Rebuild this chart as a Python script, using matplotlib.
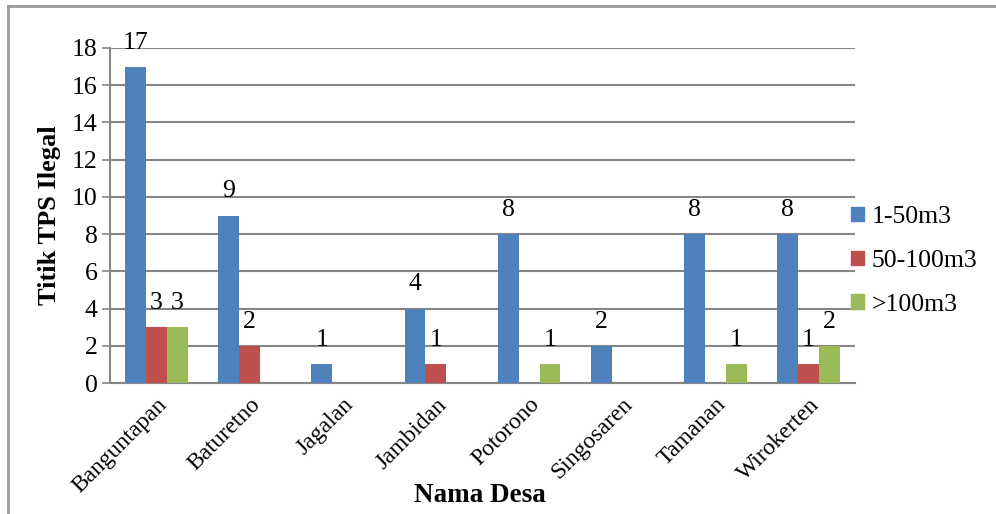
import numpy as np
import matplotlib
matplotlib.use("Agg")
import matplotlib.pyplot as plt
from matplotlib.lines import Line2D

# data: jumlah titik TPS ilegal per desa
desa = ["Banguntapan", "Baturetno", "Jagalan", "Jambidan",
        "Potorono", "Singosaren", "Tamanan", "Wirokerten"]
vol_1_50 = [17, 9, 1, 4, 8, 2, 8, 8]
vol_50_100 = [3, 2, 0, 1, 0, 0, 0, 1]
vol_100 = [3, 0, 0, 0, 1, 0, 1, 2]
series_names = ["1-50m3", "50-100m3", ">100m3"]
colors = ["#4F81BD", "#C0504D", "#9BBB59"]

plt.rcParams["font.family"] = ["Liberation Serif", "DejaVu Serif"]

fig = plt.figure(figsize=(9.96, 5.14), dpi=100)
ax = fig.add_axes([110/996, 1-383/514, (855-110)/996, (383-48)/514])

x = np.arange(len(desa))
w = 0.225
for i, (vals, name, c) in enumerate(zip([vol_1_50, vol_50_100, vol_100], series_names, colors)):
    pos = x + (i-1)*w
    ax.bar(pos, vals, width=w, color=c, label=name, zorder=3)
    # label nilai di atas batang (nilai 0 tidak diberi label)
    for p, v in zip(pos, vals):
        if v > 0:
            ax.annotate(str(v), (p, v), xytext=(0, 13), textcoords="offset points",
                        ha="center", va="baseline", fontsize=18.5)

ax.set_xlim(-0.5, len(desa)-0.5)
ax.set_ylim(0, 18)
ax.set_yticks(range(0, 19, 2))
ax.tick_params(axis="y", labelsize=18.5, length=6, color="#868686", width=1.2, pad=3)
ax.set_xticks(x)
ax.set_xticklabels(desa, rotation=45, ha="right", rotation_mode="anchor", fontsize=17)
ax.tick_params(axis="x", length=0, pad=8)
ax.grid(axis="y", color="#868686", linewidth=1.5, zorder=0)
for s in ["top", "right"]:
    ax.spines[s].set_visible(False)
ax.spines["left"].set_color("#868686")
ax.spines["bottom"].set_color("#868686")
ax.spines["left"].set_linewidth(1.5)
ax.spines["bottom"].set_linewidth(1.5)

ax.set_ylabel("Titik TPS Ilegal", fontsize=19, fontweight="bold", labelpad=8)
fig.text(480/996, 1-495/514, "Nama Desa", fontsize=19.5, fontweight="bold", ha="center", va="center")

handles = [plt.Rectangle((0, 0), 1, 1, color=c) for c in colors]
fig.legend(handles, series_names, loc="center left", bbox_to_anchor=(828/996, 1-261/514),
           frameon=False, fontsize=18.5, handlelength=0.5, handleheight=0.5,
           handletextpad=0.3, labelspacing=0.85)

# outer chart border
fig.add_artist(Line2D([8/996, 1], [1-6/514, 1-6/514], color="#9a9a9a", linewidth=2))
fig.add_artist(Line2D([8/996, 8/996], [1-6/514, 0], color="#9a9a9a", linewidth=2))

fig.savefig("out.png", dpi=100)
